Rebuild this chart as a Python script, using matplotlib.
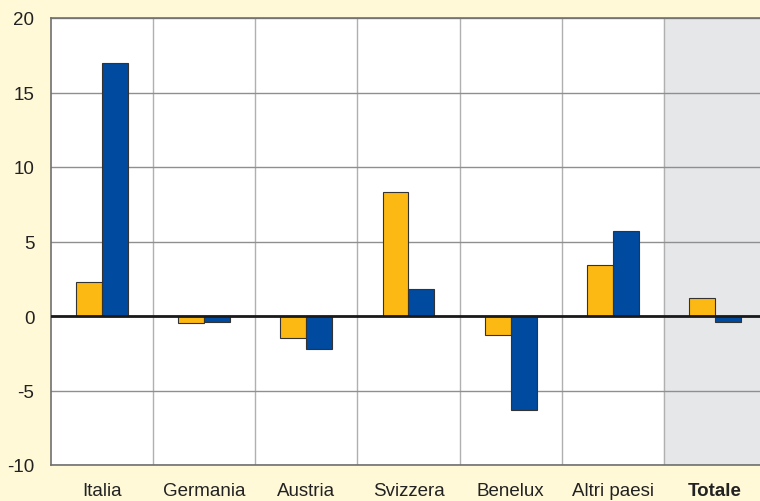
import matplotlib
matplotlib.use("Agg")
import matplotlib.pyplot as plt
import numpy as np

plt.rcParams["font.family"] = ["Liberation Sans", "DejaVu Sans"]
plt.rcParams["axes.unicode_minus"] = False

paesi = ["Italia", "Germania", "Austria", "Svizzera", "Benelux", "Altri paesi", "Totale"]
serie_a = [2.3, -0.5, -1.5, 8.3, -1.3, 3.4, 1.2]     # orange
serie_b = [17.0, -0.4, -2.2, 1.8, -6.3, 5.7, -0.4]   # blue

bg = "#FFF9D8"
arancio = "#FDB913"
blu = "#004A9F"

fig = plt.figure(figsize=(7.6, 5.02), dpi=100, facecolor=bg)
# plot area runs slightly past the right edge of the figure, as in the original
ax = fig.add_axes([51 / 760, 36 / 502, 715 / 760, 447 / 502])
ax.set_facecolor("white")

x = np.arange(len(paesi))
w = 0.254
ax.axvspan(len(paesi) - 1.5, len(paesi) - 0.5, color="#E6E7E8", zorder=0)
ax.bar(x - w / 2, serie_a, w, color=arancio, edgecolor="#333333", lw=0.8, zorder=3)
ax.bar(x + w / 2, serie_b, w, color=blu, edgecolor="#333333", lw=0.8, zorder=3)
ax.axhline(0, color="#1a1a1a", lw=2, zorder=4)

ax.set_xlim(-0.5, len(paesi) - 0.5)
ax.set_ylim(-10, 20)
ax.set_yticks(range(-10, 21, 5))
ax.set_xticks(x)
ax.set_xticklabels(paesi)
ax.get_xticklabels()[-1].set_fontweight("bold")
ax.set_xticks(np.arange(0.5, len(paesi) - 1, 1), minor=True)
ax.grid(axis="y", color="#8f8f8f", lw=1, zorder=1)
ax.grid(axis="x", which="minor", color="#b0b0b0", lw=1, zorder=1)
ax.grid(axis="x", which="major", visible=False)
ax.tick_params(axis="both", which="both", length=0, labelsize=13.5, colors="#222222")
ax.tick_params(axis="x", pad=12)
ax.tick_params(axis="y", pad=12)
for s in ax.spines.values():
    s.set_color("#6f6f6f")
    s.set_linewidth(1.2)

fig.savefig("out.png", dpi=100, facecolor=bg)
